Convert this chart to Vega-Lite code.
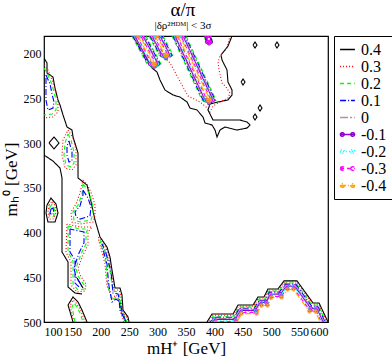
{
"$schema":"https://vega.github.io/schema/vega-lite/v6.json",
"autosize":"none",
"padding":{"left":44,"top":36,"right":64,"bottom":36},
"width":284,"height":286,
"title":{"text":"α/π","subtitle":"|δρ²ᴴᴰᴹ| < 3σ","font":"Liberation Serif","fontSize":19,"fontWeight":"normal","subtitleFont":"Liberation Serif","subtitleFontSize":11,"subtitleColor":"black","anchor":"middle","offset":5,"subtitlePadding":0,"color":"black","dx":-3},
"config":{"view":{"stroke":"black","strokeWidth":1.2},"font":"Liberation Serif",
"axis":{"domain":false,"grid":false,"labelFont":"Liberation Serif","labelFontSize":12,"labelColor":"black","titleFont":"Liberation Serif","titleFontSize":17,"titleFontWeight":"normal","titleColor":"black","tickColor":"black","tickSize":0,"tickWidth":1,"labelOverlap":false},
"legend":{"orient":"right","offset":5,"strokeColor":"black","fillColor":"white","padding":5,"labelFont":"Liberation Serif","labelFontSize":16,"labelColor":"black","symbolType":"stroke","symbolSize":220,"symbolStrokeWidth":1.5,"rowPadding":0,"labelOffset":5,"symbolOffset":0}},
"data":{"values":[
{"lv":"0.4","seg":"k1","x":100,"y":204.6},{"lv":"0.4","seg":"k1","x":105.3,"y":210.2},{"lv":"0.4","seg":"k1","x":105.3,"y":221.4},{"lv":"0.4","seg":"k1","x":115.8,"y":225.9},{"lv":"0.4","seg":"k1","x":119.4,"y":238.2},{"lv":"0.4","seg":"k1","x":124.6,"y":251.6},{"lv":"0.4","seg":"k1","x":128.2,"y":257.2},{"lv":"0.4","seg":"k1","x":133.5,"y":268.4},{"lv":"0.4","seg":"k1","x":140.5,"y":281.8},{"lv":"0.4","seg":"k1","x":149.3,"y":285.2},{"lv":"0.4","seg":"k1","x":151.1,"y":293},{"lv":"0.4","seg":"k1","x":159.9,"y":310.9},{"lv":"0.4","seg":"k1","x":159.9,"y":338.9},{"lv":"0.4","seg":"k1","x":175.7,"y":346.7},{"lv":"0.4","seg":"k1","x":181,"y":360.1},{"lv":"0.4","seg":"k1","x":189.8,"y":385.9},{"lv":"0.4","seg":"k1","x":198.6,"y":404.9},{"lv":"0.4","seg":"k1","x":210.9,"y":416.1},{"lv":"0.4","seg":"k1","x":216.2,"y":427.3},{"lv":"0.4","seg":"k1","x":219.7,"y":441.8},{"lv":"0.4","seg":"k1","x":225,"y":462},{"lv":"0.4","seg":"k1","x":233.8,"y":462},{"lv":"0.4","seg":"k1","x":237.3,"y":469.8},{"lv":"0.4","seg":"k1","x":239.1,"y":486.6},{"lv":"0.4","seg":"k1","x":247.9,"y":494.4},{"lv":"0.4","seg":"k1","x":249.7,"y":500},
{"lv":"0.4","seg":"k2","x":100,"y":313.2},{"lv":"0.4","seg":"k2","x":115.8,"y":319.9},{"lv":"0.4","seg":"k2","x":128.2,"y":327.7},{"lv":"0.4","seg":"k2","x":131.7,"y":338.9},{"lv":"0.4","seg":"k2","x":131.7,"y":421.7},{"lv":"0.4","seg":"k2","x":142.3,"y":432.9},{"lv":"0.4","seg":"k2","x":142.3,"y":460.8},{"lv":"0.4","seg":"k2","x":154.6,"y":467.6},{"lv":"0.4","seg":"k2","x":166.9,"y":468.7},
{"lv":"0.4","seg":"k3","x":151.1,"y":500},{"lv":"0.4","seg":"k3","x":142.3,"y":481},{"lv":"0.4","seg":"k3","x":151.1,"y":472},{"lv":"0.4","seg":"k3","x":159.9,"y":477.6},{"lv":"0.4","seg":"k3","x":166.9,"y":486.6},{"lv":"0.4","seg":"k3","x":175.7,"y":500},
{"lv":"0.4","seg":"k4","x":158.1,"y":450.8},{"lv":"0.4","seg":"k4","x":168.7,"y":462},
{"lv":"0.4","seg":"k5","x":105.3,"y":369.1},{"lv":"0.4","seg":"k5","x":112.3,"y":361.3},{"lv":"0.4","seg":"k5","x":121.1,"y":368},{"lv":"0.4","seg":"k5","x":124.6,"y":378},{"lv":"0.4","seg":"k5","x":119.4,"y":388.1},{"lv":"0.4","seg":"k5","x":107,"y":388.1},{"lv":"0.4","seg":"k5","x":103.5,"y":378},{"lv":"0.4","seg":"k5","x":105.3,"y":369.1},
{"lv":"0.4","seg":"k6","x":108.8,"y":299.7},{"lv":"0.4","seg":"k6","x":117.6,"y":293},{"lv":"0.4","seg":"k6","x":126.4,"y":299.7},{"lv":"0.4","seg":"k6","x":117.6,"y":306.4},{"lv":"0.4","seg":"k6","x":108.8,"y":299.7},
{"lv":"0.4","seg":"k7","x":468,"y":190.1},{"lv":"0.4","seg":"k7","x":471.5,"y":186.7},{"lv":"0.4","seg":"k7","x":475,"y":190.1},{"lv":"0.4","seg":"k7","x":471.5,"y":193.5},{"lv":"0.4","seg":"k7","x":468,"y":190.1},
{"lv":"0.4","seg":"k8","x":506.7,"y":190.1},{"lv":"0.4","seg":"k8","x":510.2,"y":186.7},{"lv":"0.4","seg":"k8","x":513.7,"y":190.1},{"lv":"0.4","seg":"k8","x":510.2,"y":193.5},{"lv":"0.4","seg":"k8","x":506.7,"y":190.1},
{"lv":"0.4","seg":"k9","x":446.9,"y":231.5},{"lv":"0.4","seg":"k9","x":450.4,"y":228.1},{"lv":"0.4","seg":"k9","x":453.9,"y":231.5},{"lv":"0.4","seg":"k9","x":450.4,"y":234.9},{"lv":"0.4","seg":"k9","x":446.9,"y":231.5},
{"lv":"0.4","seg":"k10","x":476.8,"y":260.6},{"lv":"0.4","seg":"k10","x":480.3,"y":257.2},{"lv":"0.4","seg":"k10","x":483.8,"y":260.6},{"lv":"0.4","seg":"k10","x":480.3,"y":264},{"lv":"0.4","seg":"k10","x":476.8,"y":260.6},
{"lv":"0.4","seg":"k11","x":468,"y":270.6},{"lv":"0.4","seg":"k11","x":471.5,"y":267.2},{"lv":"0.4","seg":"k11","x":475,"y":270.6},{"lv":"0.4","seg":"k11","x":471.5,"y":274},{"lv":"0.4","seg":"k11","x":468,"y":270.6},
{"lv":"0.4","seg":"k12","x":256.7,"y":180},{"lv":"0.4","seg":"k12","x":290.1,"y":215.8},{"lv":"0.4","seg":"k12","x":298.9,"y":220.3},{"lv":"0.4","seg":"k12","x":304.2,"y":229.2},{"lv":"0.4","seg":"k12","x":313,"y":240.4},{"lv":"0.4","seg":"k12","x":327.1,"y":246},{"lv":"0.4","seg":"k12","x":339.4,"y":248.3},{"lv":"0.4","seg":"k12","x":351.8,"y":253.8},{"lv":"0.4","seg":"k12","x":357,"y":260.6},{"lv":"0.4","seg":"k12","x":369.4,"y":262.8},{"lv":"0.4","seg":"k12","x":379.9,"y":270.6},{"lv":"0.4","seg":"k12","x":383.5,"y":277.3},{"lv":"0.4","seg":"k12","x":395.8,"y":279.6},{"lv":"0.4","seg":"k12","x":401.1,"y":285.2},{"lv":"0.4","seg":"k12","x":404.6,"y":293},{"lv":"0.4","seg":"k12","x":409.9,"y":285.2},{"lv":"0.4","seg":"k12","x":418.7,"y":281.8},{"lv":"0.4","seg":"k12","x":439.8,"y":285.2},{"lv":"0.4","seg":"k12","x":457.4,"y":283},{"lv":"0.4","seg":"k12","x":462.7,"y":279.6},{"lv":"0.4","seg":"k12","x":457.4,"y":276.2},{"lv":"0.4","seg":"k12","x":445.1,"y":274},{"lv":"0.4","seg":"k12","x":422.2,"y":274},{"lv":"0.4","seg":"k12","x":397.5,"y":274},{"lv":"0.4","seg":"k12","x":388.7,"y":262.8},{"lv":"0.4","seg":"k12","x":392.3,"y":256.1},{"lv":"0.4","seg":"k12","x":406.4,"y":253.8},{"lv":"0.4","seg":"k12","x":423.9,"y":251.6},{"lv":"0.4","seg":"k12","x":431,"y":246},{"lv":"0.4","seg":"k12","x":431,"y":240.4},{"lv":"0.4","seg":"k12","x":423.9,"y":231.5},{"lv":"0.4","seg":"k12","x":422.2,"y":218},{"lv":"0.4","seg":"k12","x":413.4,"y":206.9},{"lv":"0.4","seg":"k12","x":411.6,"y":201.3},{"lv":"0.4","seg":"k12","x":424,"y":191.2},{"lv":"0.4","seg":"k12","x":431,"y":180},
{"lv":"0.4","seg":"k13","x":387,"y":500},{"lv":"0.4","seg":"k13","x":395.8,"y":491.1},{"lv":"0.4","seg":"k13","x":432.8,"y":491.1},{"lv":"0.4","seg":"k13","x":441.6,"y":481},{"lv":"0.4","seg":"k13","x":468,"y":481},{"lv":"0.4","seg":"k13","x":476.8,"y":472},{"lv":"0.4","seg":"k13","x":487.3,"y":472},{"lv":"0.4","seg":"k13","x":494.4,"y":463},{"lv":"0.4","seg":"k13","x":512,"y":463},{"lv":"0.4","seg":"k13","x":522.5,"y":454},{"lv":"0.4","seg":"k13","x":545.4,"y":454},{"lv":"0.4","seg":"k13","x":573.6,"y":478.7},{"lv":"0.4","seg":"k13","x":584.2,"y":478.7},{"lv":"0.4","seg":"k13","x":600,"y":500},

{"lv":"0.3","seg":"r1","x":309.5,"y":201.3},{"lv":"0.3","seg":"r1","x":321.8,"y":210.2},{"lv":"0.3","seg":"r1","x":330.6,"y":220.3},{"lv":"0.3","seg":"r1","x":344.7,"y":237.1},{"lv":"0.3","seg":"r1","x":353.5,"y":247.1},{"lv":"0.3","seg":"r1","x":374.7,"y":253.8},{"lv":"0.3","seg":"r1","x":385.2,"y":259.4},{"lv":"0.3","seg":"r1","x":392.3,"y":265},{"lv":"0.3","seg":"r1","x":397.5,"y":258.3},{"lv":"0.3","seg":"r1","x":409.9,"y":253.8},{"lv":"0.3","seg":"r1","x":423.9,"y":249.4},{"lv":"0.3","seg":"r1","x":427.5,"y":243.8},{"lv":"0.3","seg":"r1","x":420.4,"y":237.1},{"lv":"0.3","seg":"r1","x":413.4,"y":232.6},{"lv":"0.3","seg":"r1","x":408.1,"y":218},{"lv":"0.3","seg":"r1","x":406.4,"y":209.1},{"lv":"0.3","seg":"r1","x":409.9,"y":202.4},{"lv":"0.3","seg":"r1","x":422.2,"y":193.4},{"lv":"0.3","seg":"r1","x":427.5,"y":180},
{"lv":"0.3","seg":"r2","x":100,"y":212.4},{"lv":"0.3","seg":"r2","x":107,"y":218},{"lv":"0.3","seg":"r2","x":114.1,"y":229.2},{"lv":"0.3","seg":"r2","x":119.4,"y":240.4},{"lv":"0.3","seg":"r2","x":124.6,"y":251.6},{"lv":"0.3","seg":"r2","x":124.6,"y":265},{"lv":"0.3","seg":"r2","x":115.8,"y":270.6},{"lv":"0.3","seg":"r2","x":100,"y":271.7},
{"lv":"0.3","seg":"r3","x":142.3,"y":285.2},{"lv":"0.3","seg":"r3","x":151.1,"y":294.1},{"lv":"0.3","seg":"r3","x":156.3,"y":307.6},{"lv":"0.3","seg":"r3","x":156.3,"y":324.3},{"lv":"0.3","seg":"r3","x":149.3,"y":329.9},{"lv":"0.3","seg":"r3","x":137,"y":327.7},{"lv":"0.3","seg":"r3","x":131.7,"y":313.2},{"lv":"0.3","seg":"r3","x":133.5,"y":296.4},{"lv":"0.3","seg":"r3","x":142.3,"y":285.2},
{"lv":"0.3","seg":"r4","x":108.8,"y":369.1},{"lv":"0.3","seg":"r4","x":114.1,"y":364.6},{"lv":"0.3","seg":"r4","x":119.4,"y":370.2},{"lv":"0.3","seg":"r4","x":121.1,"y":378},{"lv":"0.3","seg":"r4","x":115.8,"y":384.8},{"lv":"0.3","seg":"r4","x":108.8,"y":384.8},{"lv":"0.3","seg":"r4","x":107,"y":376.9},{"lv":"0.3","seg":"r4","x":108.8,"y":369.1},
{"lv":"0.3","seg":"r5","x":168.7,"y":341.1},{"lv":"0.3","seg":"r5","x":177.5,"y":347.8},{"lv":"0.3","seg":"r5","x":184.5,"y":357.9},{"lv":"0.3","seg":"r5","x":189.8,"y":369.1},{"lv":"0.3","seg":"r5","x":189.8,"y":380.3},{"lv":"0.3","seg":"r5","x":186.3,"y":388.1},{"lv":"0.3","seg":"r5","x":163.4,"y":390.4},{"lv":"0.3","seg":"r5","x":149.3,"y":388.1},{"lv":"0.3","seg":"r5","x":147.5,"y":376.9},{"lv":"0.3","seg":"r5","x":156.3,"y":368},{"lv":"0.3","seg":"r5","x":163.4,"y":355.7},{"lv":"0.3","seg":"r5","x":168.7,"y":341.1},
{"lv":"0.3","seg":"r6","x":140.5,"y":390.4},{"lv":"0.3","seg":"r6","x":138.7,"y":421.7},{"lv":"0.3","seg":"r6","x":147.5,"y":432.9},{"lv":"0.3","seg":"r6","x":147.5,"y":458.6},{"lv":"0.3","seg":"r6","x":158.1,"y":466.4},{"lv":"0.3","seg":"r6","x":172.2,"y":465.3},{"lv":"0.3","seg":"r6","x":174,"y":457.5},{"lv":"0.3","seg":"r6","x":163.4,"y":447.4},{"lv":"0.3","seg":"r6","x":159.9,"y":439.6},{"lv":"0.3","seg":"r6","x":168.7,"y":425},{"lv":"0.3","seg":"r6","x":177.5,"y":413.8},{"lv":"0.3","seg":"r6","x":177.5,"y":399.3},{"lv":"0.3","seg":"r6","x":184.5,"y":393.7},{"lv":"0.3","seg":"r6","x":163.4,"y":393.7},{"lv":"0.3","seg":"r6","x":140.5,"y":390.4},
{"lv":"0.3","seg":"r7","x":152.8,"y":500},{"lv":"0.3","seg":"r7","x":145.8,"y":482.1},{"lv":"0.3","seg":"r7","x":151.1,"y":475.4},{"lv":"0.3","seg":"r7","x":158.1,"y":479.9},{"lv":"0.3","seg":"r7","x":165.1,"y":487.7},{"lv":"0.3","seg":"r7","x":172.2,"y":500},
{"lv":"0.3","seg":"r8","x":240.8,"y":500},{"lv":"0.3","seg":"r8","x":233.8,"y":487.7},{"lv":"0.3","seg":"r8","x":232,"y":475.4},{"lv":"0.3","seg":"r8","x":226.8,"y":469.8},{"lv":"0.3","seg":"r8","x":219.7,"y":473.2},{"lv":"0.3","seg":"r8","x":210.9,"y":459.7},{"lv":"0.3","seg":"r8","x":209.2,"y":448.5},{"lv":"0.3","seg":"r8","x":207.4,"y":435.1},{"lv":"0.3","seg":"r8","x":202.1,"y":421.7},{"lv":"0.3","seg":"r8","x":195.1,"y":406},{"lv":"0.3","seg":"r8","x":196.8,"y":404.9},{"lv":"0.3","seg":"r8","x":209.2,"y":417.2},{"lv":"0.3","seg":"r8","x":214.4,"y":428.4},{"lv":"0.3","seg":"r8","x":218,"y":442.9},{"lv":"0.3","seg":"r8","x":223.2,"y":464.2},{"lv":"0.3","seg":"r8","x":232,"y":464.2},{"lv":"0.3","seg":"r8","x":235.6,"y":470.9},{"lv":"0.3","seg":"r8","x":237.3,"y":486.6},{"lv":"0.3","seg":"r8","x":246.1,"y":495.5},{"lv":"0.3","seg":"r8","x":247.9,"y":500},
{"lv":"0.3","seg":"r9","x":387.8,"y":501.2},{"lv":"0.3","seg":"r9","x":396.6,"y":492.3},{"lv":"0.3","seg":"r9","x":433.6,"y":492.3},{"lv":"0.3","seg":"r9","x":442.4,"y":482.2},{"lv":"0.3","seg":"r9","x":468.8,"y":482.2},{"lv":"0.3","seg":"r9","x":477.6,"y":473.2},{"lv":"0.3","seg":"r9","x":488.1,"y":473.2},{"lv":"0.3","seg":"r9","x":495.2,"y":464.2},{"lv":"0.3","seg":"r9","x":512.8,"y":464.2},{"lv":"0.3","seg":"r9","x":523.3,"y":455.2},{"lv":"0.3","seg":"r9","x":544.6,"y":455.2},{"lv":"0.3","seg":"r9","x":572.8,"y":479.9},{"lv":"0.3","seg":"r9","x":583.4,"y":479.9},{"lv":"0.3","seg":"r9","x":599.2,"y":501.2},

{"lv":"0.2","seg":"g1","x":100,"y":215.8},{"lv":"0.2","seg":"g1","x":105.3,"y":221.4},{"lv":"0.2","seg":"g1","x":112.3,"y":231.5},{"lv":"0.2","seg":"g1","x":117.6,"y":242.7},{"lv":"0.2","seg":"g1","x":121.1,"y":251.6},{"lv":"0.2","seg":"g1","x":121.1,"y":262.8},{"lv":"0.2","seg":"g1","x":114.1,"y":267.3},{"lv":"0.2","seg":"g1","x":100,"y":268.4},
{"lv":"0.2","seg":"g2","x":142.3,"y":289.7},{"lv":"0.2","seg":"g2","x":147.5,"y":296.4},{"lv":"0.2","seg":"g2","x":152.8,"y":309.8},{"lv":"0.2","seg":"g2","x":152.8,"y":322.1},{"lv":"0.2","seg":"g2","x":147.5,"y":326.6},{"lv":"0.2","seg":"g2","x":138.7,"y":324.3},{"lv":"0.2","seg":"g2","x":135.2,"y":313.2},{"lv":"0.2","seg":"g2","x":137,"y":299.7},{"lv":"0.2","seg":"g2","x":142.3,"y":289.7},
{"lv":"0.2","seg":"g3","x":110.6,"y":371.3},{"lv":"0.2","seg":"g3","x":114.1,"y":368},{"lv":"0.2","seg":"g3","x":117.6,"y":372.5},{"lv":"0.2","seg":"g3","x":119.4,"y":378},{"lv":"0.2","seg":"g3","x":115.8,"y":382.5},{"lv":"0.2","seg":"g3","x":110.6,"y":382.5},{"lv":"0.2","seg":"g3","x":108.8,"y":376.9},{"lv":"0.2","seg":"g3","x":110.6,"y":371.3},
{"lv":"0.2","seg":"g4","x":168.7,"y":345.6},{"lv":"0.2","seg":"g4","x":175.7,"y":351.2},{"lv":"0.2","seg":"g4","x":181,"y":359},{"lv":"0.2","seg":"g4","x":186.3,"y":370.2},{"lv":"0.2","seg":"g4","x":186.3,"y":379.2},{"lv":"0.2","seg":"g4","x":182.7,"y":385.9},{"lv":"0.2","seg":"g4","x":163.4,"y":388.1},{"lv":"0.2","seg":"g4","x":152.8,"y":385.9},{"lv":"0.2","seg":"g4","x":151.1,"y":376.9},{"lv":"0.2","seg":"g4","x":159.9,"y":369.1},{"lv":"0.2","seg":"g4","x":166.9,"y":356.8},{"lv":"0.2","seg":"g4","x":168.7,"y":345.6},
{"lv":"0.2","seg":"g5","x":142.3,"y":392.6},{"lv":"0.2","seg":"g5","x":142.3,"y":421.7},{"lv":"0.2","seg":"g5","x":151.1,"y":431.8},{"lv":"0.2","seg":"g5","x":151.1,"y":457.5},{"lv":"0.2","seg":"g5","x":159.9,"y":464.2},{"lv":"0.2","seg":"g5","x":170.4,"y":463.1},{"lv":"0.2","seg":"g5","x":170.4,"y":458.6},{"lv":"0.2","seg":"g5","x":159.9,"y":448.5},{"lv":"0.2","seg":"g5","x":156.3,"y":439.6},{"lv":"0.2","seg":"g5","x":165.1,"y":423.9},{"lv":"0.2","seg":"g5","x":174,"y":412.7},{"lv":"0.2","seg":"g5","x":174,"y":400.4},{"lv":"0.2","seg":"g5","x":177.5,"y":396},{"lv":"0.2","seg":"g5","x":163.4,"y":396},{"lv":"0.2","seg":"g5","x":142.3,"y":392.6},
{"lv":"0.2","seg":"g6","x":154.6,"y":500},{"lv":"0.2","seg":"g6","x":149.3,"y":483.2},{"lv":"0.2","seg":"g6","x":152.8,"y":478.7},{"lv":"0.2","seg":"g6","x":158.1,"y":483.2},{"lv":"0.2","seg":"g6","x":163.4,"y":489.9},{"lv":"0.2","seg":"g6","x":168.7,"y":500},
{"lv":"0.2","seg":"g7","x":242.6,"y":500},{"lv":"0.2","seg":"g7","x":235.6,"y":487.7},{"lv":"0.2","seg":"g7","x":233.8,"y":475.4},{"lv":"0.2","seg":"g7","x":226.8,"y":472},{"lv":"0.2","seg":"g7","x":219.7,"y":475.4},{"lv":"0.2","seg":"g7","x":212.7,"y":459.7},{"lv":"0.2","seg":"g7","x":210.9,"y":448.5},{"lv":"0.2","seg":"g7","x":209.2,"y":435.1},{"lv":"0.2","seg":"g7","x":203.9,"y":421.7},{"lv":"0.2","seg":"g7","x":198.6,"y":408.3},{"lv":"0.2","seg":"g7","x":205.6,"y":417.2},{"lv":"0.2","seg":"g7","x":210.9,"y":428.4},{"lv":"0.2","seg":"g7","x":216.2,"y":442.9},{"lv":"0.2","seg":"g7","x":221.5,"y":465.3},{"lv":"0.2","seg":"g7","x":230.3,"y":466.4},{"lv":"0.2","seg":"g7","x":233.8,"y":472},{"lv":"0.2","seg":"g7","x":235.6,"y":486.6},{"lv":"0.2","seg":"g7","x":244.4,"y":496.7},{"lv":"0.2","seg":"g7","x":246.1,"y":500},
{"lv":"0.2","seg":"g8","x":254.7,"y":180},{"lv":"0.2","seg":"g8","x":281.4,"y":211.3},{"lv":"0.2","seg":"g8","x":293.7,"y":216.9},{"lv":"0.2","seg":"g8","x":306,"y":211.3},{"lv":"0.2","seg":"g8","x":279.3,"y":180},
{"lv":"0.2","seg":"g9","x":284.9,"y":180},{"lv":"0.2","seg":"g9","x":302.5,"y":201.3},{"lv":"0.2","seg":"g9","x":314.8,"y":206.9},{"lv":"0.2","seg":"g9","x":327.1,"y":201.3},{"lv":"0.2","seg":"g9","x":309.5,"y":180},
{"lv":"0.2","seg":"g10","x":325.4,"y":180},{"lv":"0.2","seg":"g10","x":378.2,"y":251.6},{"lv":"0.2","seg":"g10","x":390.5,"y":257.2},{"lv":"0.2","seg":"g10","x":402.8,"y":251.6},{"lv":"0.2","seg":"g10","x":350,"y":180},
{"lv":"0.2","seg":"g11","x":382.5,"y":180},{"lv":"0.2","seg":"g11","x":384.3,"y":186.7},{"lv":"0.2","seg":"g11","x":390.5,"y":189.5},{"lv":"0.2","seg":"g11","x":396.7,"y":186.7},{"lv":"0.2","seg":"g11","x":394.9,"y":180},
{"lv":"0.2","seg":"g12","x":388.6,"y":502.4},{"lv":"0.2","seg":"g12","x":397.4,"y":493.5},{"lv":"0.2","seg":"g12","x":434.4,"y":493.5},{"lv":"0.2","seg":"g12","x":443.2,"y":483.4},{"lv":"0.2","seg":"g12","x":469.6,"y":483.4},{"lv":"0.2","seg":"g12","x":478.4,"y":474.4},{"lv":"0.2","seg":"g12","x":488.9,"y":474.4},{"lv":"0.2","seg":"g12","x":496,"y":465.4},{"lv":"0.2","seg":"g12","x":513.6,"y":465.4},{"lv":"0.2","seg":"g12","x":524.1,"y":456.4},{"lv":"0.2","seg":"g12","x":543.8,"y":456.4},{"lv":"0.2","seg":"g12","x":572,"y":481.1},{"lv":"0.2","seg":"g12","x":582.6,"y":481.1},{"lv":"0.2","seg":"g12","x":598.4,"y":502.4},

{"lv":"0.1","seg":"b1","x":103.5,"y":223.6},{"lv":"0.1","seg":"b1","x":110.6,"y":233.7},{"lv":"0.1","seg":"b1","x":114.1,"y":244.9},{"lv":"0.1","seg":"b1","x":117.6,"y":253.8},{"lv":"0.1","seg":"b1","x":115.8,"y":260.6},{"lv":"0.1","seg":"b1","x":107,"y":262.8},{"lv":"0.1","seg":"b1","x":103.5,"y":251.6},{"lv":"0.1","seg":"b1","x":103.5,"y":223.6},
{"lv":"0.1","seg":"b2","x":144,"y":297.5},{"lv":"0.1","seg":"b2","x":149.3,"y":309.8},{"lv":"0.1","seg":"b2","x":149.3,"y":319.9},{"lv":"0.1","seg":"b2","x":144,"y":321},{"lv":"0.1","seg":"b2","x":140.5,"y":313.2},{"lv":"0.1","seg":"b2","x":140.5,"y":303.1},{"lv":"0.1","seg":"b2","x":144,"y":297.5},
{"lv":"0.1","seg":"b3","x":112.3,"y":373.6},{"lv":"0.1","seg":"b3","x":115.8,"y":372.5},{"lv":"0.1","seg":"b3","x":117.6,"y":378},{"lv":"0.1","seg":"b3","x":114.1,"y":380.3},{"lv":"0.1","seg":"b3","x":110.6,"y":378},{"lv":"0.1","seg":"b3","x":112.3,"y":373.6},
{"lv":"0.1","seg":"b4","x":168.7,"y":352.3},{"lv":"0.1","seg":"b4","x":177.5,"y":361.3},{"lv":"0.1","seg":"b4","x":182.7,"y":371.3},{"lv":"0.1","seg":"b4","x":181,"y":381.4},{"lv":"0.1","seg":"b4","x":163.4,"y":384.8},{"lv":"0.1","seg":"b4","x":156.3,"y":382.5},{"lv":"0.1","seg":"b4","x":154.6,"y":376.9},{"lv":"0.1","seg":"b4","x":163.4,"y":370.2},{"lv":"0.1","seg":"b4","x":168.7,"y":357.9},{"lv":"0.1","seg":"b4","x":168.7,"y":352.3},
{"lv":"0.1","seg":"b5","x":145.8,"y":396},{"lv":"0.1","seg":"b5","x":145.8,"y":421.7},{"lv":"0.1","seg":"b5","x":154.6,"y":430.6},{"lv":"0.1","seg":"b5","x":154.6,"y":456.4},{"lv":"0.1","seg":"b5","x":161.6,"y":460.8},{"lv":"0.1","seg":"b5","x":166.9,"y":459.7},{"lv":"0.1","seg":"b5","x":156.3,"y":449.7},{"lv":"0.1","seg":"b5","x":152.8,"y":439.6},{"lv":"0.1","seg":"b5","x":161.6,"y":422.8},{"lv":"0.1","seg":"b5","x":170.4,"y":411.6},{"lv":"0.1","seg":"b5","x":170.4,"y":399.3},{"lv":"0.1","seg":"b5","x":145.8,"y":396},
{"lv":"0.1","seg":"b6","x":244.4,"y":500},{"lv":"0.1","seg":"b6","x":237.3,"y":487.7},{"lv":"0.1","seg":"b6","x":233.8,"y":477.6},{"lv":"0.1","seg":"b6","x":226.8,"y":474.3},{"lv":"0.1","seg":"b6","x":219.7,"y":477.6},{"lv":"0.1","seg":"b6","x":214.4,"y":459.7},{"lv":"0.1","seg":"b6","x":212.7,"y":448.5},{"lv":"0.1","seg":"b6","x":210.9,"y":435.1},{"lv":"0.1","seg":"b6","x":205.6,"y":422.8},{"lv":"0.1","seg":"b6","x":202.1,"y":412.7},{"lv":"0.1","seg":"b6","x":207.4,"y":419.4},{"lv":"0.1","seg":"b6","x":212.7,"y":430.6},{"lv":"0.1","seg":"b6","x":218,"y":444.1},{"lv":"0.1","seg":"b6","x":221.5,"y":467.6},{"lv":"0.1","seg":"b6","x":230.3,"y":468.7},{"lv":"0.1","seg":"b6","x":232,"y":473.2},{"lv":"0.1","seg":"b6","x":233.8,"y":486.6},{"lv":"0.1","seg":"b6","x":242.6,"y":497.8},{"lv":"0.1","seg":"b6","x":244.4,"y":500},
{"lv":"0.1","seg":"b7","x":256.4,"y":180},{"lv":"0.1","seg":"b7","x":283.1,"y":211.3},{"lv":"0.1","seg":"b7","x":293.7,"y":216.1},{"lv":"0.1","seg":"b7","x":304.3,"y":211.3},{"lv":"0.1","seg":"b7","x":277.6,"y":180},
{"lv":"0.1","seg":"b8","x":286.6,"y":180},{"lv":"0.1","seg":"b8","x":304.2,"y":201.3},{"lv":"0.1","seg":"b8","x":314.8,"y":206.1},{"lv":"0.1","seg":"b8","x":325.4,"y":201.3},{"lv":"0.1","seg":"b8","x":307.8,"y":180},
{"lv":"0.1","seg":"b9","x":327.1,"y":180},{"lv":"0.1","seg":"b9","x":379.9,"y":251.6},{"lv":"0.1","seg":"b9","x":390.5,"y":256.4},{"lv":"0.1","seg":"b9","x":401.1,"y":251.6},{"lv":"0.1","seg":"b9","x":348.3,"y":180},
{"lv":"0.1","seg":"b10","x":383.8,"y":180},{"lv":"0.1","seg":"b10","x":385.6,"y":186.7},{"lv":"0.1","seg":"b10","x":390.5,"y":188.9},{"lv":"0.1","seg":"b10","x":395.4,"y":186.7},{"lv":"0.1","seg":"b10","x":393.6,"y":180},
{"lv":"0.1","seg":"b11","x":389.4,"y":503.6},{"lv":"0.1","seg":"b11","x":398.2,"y":494.7},{"lv":"0.1","seg":"b11","x":435.2,"y":494.7},{"lv":"0.1","seg":"b11","x":444,"y":484.6},{"lv":"0.1","seg":"b11","x":470.4,"y":484.6},{"lv":"0.1","seg":"b11","x":479.2,"y":475.6},{"lv":"0.1","seg":"b11","x":489.7,"y":475.6},{"lv":"0.1","seg":"b11","x":496.8,"y":466.6},{"lv":"0.1","seg":"b11","x":514.4,"y":466.6},{"lv":"0.1","seg":"b11","x":524.9,"y":457.6},{"lv":"0.1","seg":"b11","x":543,"y":457.6},{"lv":"0.1","seg":"b11","x":571.2,"y":482.3},{"lv":"0.1","seg":"b11","x":581.8,"y":482.3},{"lv":"0.1","seg":"b11","x":597.6,"y":503.6},

{"lv":"0","seg":"z1","x":258.2,"y":180},{"lv":"0","seg":"z1","x":284.9,"y":211.3},{"lv":"0","seg":"z1","x":293.7,"y":215.3},{"lv":"0","seg":"z1","x":302.5,"y":211.3},{"lv":"0","seg":"z1","x":275.8,"y":180},
{"lv":"0","seg":"z2","x":288.4,"y":180},{"lv":"0","seg":"z2","x":306,"y":201.3},{"lv":"0","seg":"z2","x":314.8,"y":205.3},{"lv":"0","seg":"z2","x":323.6,"y":201.3},{"lv":"0","seg":"z2","x":306,"y":180},
{"lv":"0","seg":"z3","x":328.9,"y":180},{"lv":"0","seg":"z3","x":381.7,"y":251.6},{"lv":"0","seg":"z3","x":390.5,"y":255.6},{"lv":"0","seg":"z3","x":399.3,"y":251.6},{"lv":"0","seg":"z3","x":346.5,"y":180},
{"lv":"0","seg":"z4","x":390.2,"y":504.8},{"lv":"0","seg":"z4","x":399,"y":495.9},{"lv":"0","seg":"z4","x":436,"y":495.9},{"lv":"0","seg":"z4","x":444.8,"y":485.8},{"lv":"0","seg":"z4","x":471.2,"y":485.8},{"lv":"0","seg":"z4","x":480,"y":476.8},{"lv":"0","seg":"z4","x":490.5,"y":476.8},{"lv":"0","seg":"z4","x":497.6,"y":467.8},{"lv":"0","seg":"z4","x":515.2,"y":467.8},{"lv":"0","seg":"z4","x":525.7,"y":458.8},{"lv":"0","seg":"z4","x":542.2,"y":458.8},{"lv":"0","seg":"z4","x":570.4,"y":483.5},{"lv":"0","seg":"z4","x":581,"y":483.5},{"lv":"0","seg":"z4","x":596.8,"y":504.8},

{"lv":"-0.1","seg":"p1","x":260,"y":180},{"lv":"-0.1","seg":"p1","x":286.7,"y":211.3},{"lv":"-0.1","seg":"p1","x":293.7,"y":214.5},{"lv":"-0.1","seg":"p1","x":300.7,"y":211.3},{"lv":"-0.1","seg":"p1","x":274,"y":180},
{"lv":"-0.1","seg":"p2","x":290.2,"y":180},{"lv":"-0.1","seg":"p2","x":307.8,"y":201.3},{"lv":"-0.1","seg":"p2","x":314.8,"y":204.5},{"lv":"-0.1","seg":"p2","x":321.8,"y":201.3},{"lv":"-0.1","seg":"p2","x":304.2,"y":180},
{"lv":"-0.1","seg":"p3","x":330.7,"y":180},{"lv":"-0.1","seg":"p3","x":383.5,"y":251.6},{"lv":"-0.1","seg":"p3","x":390.5,"y":254.8},{"lv":"-0.1","seg":"p3","x":397.5,"y":251.6},{"lv":"-0.1","seg":"p3","x":344.7,"y":180},
{"lv":"-0.1","seg":"p4","x":385.2,"y":180},{"lv":"-0.1","seg":"p4","x":387,"y":186.7},{"lv":"-0.1","seg":"p4","x":390.5,"y":188.3},{"lv":"-0.1","seg":"p4","x":394,"y":186.7},{"lv":"-0.1","seg":"p4","x":392.2,"y":180},
{"lv":"-0.1","seg":"p5","x":391,"y":506},{"lv":"-0.1","seg":"p5","x":399.8,"y":497.1},{"lv":"-0.1","seg":"p5","x":436.8,"y":497.1},{"lv":"-0.1","seg":"p5","x":445.6,"y":487},{"lv":"-0.1","seg":"p5","x":472,"y":487},{"lv":"-0.1","seg":"p5","x":480.8,"y":478},{"lv":"-0.1","seg":"p5","x":491.3,"y":478},{"lv":"-0.1","seg":"p5","x":498.4,"y":469},{"lv":"-0.1","seg":"p5","x":516,"y":469},{"lv":"-0.1","seg":"p5","x":526.5,"y":460},{"lv":"-0.1","seg":"p5","x":541.4,"y":460},{"lv":"-0.1","seg":"p5","x":569.6,"y":484.7},{"lv":"-0.1","seg":"p5","x":580.2,"y":484.7},{"lv":"-0.1","seg":"p5","x":596,"y":506},

{"lv":"-0.2","seg":"c1","x":261.7,"y":180},{"lv":"-0.2","seg":"c1","x":288.4,"y":211.3},{"lv":"-0.2","seg":"c1","x":293.7,"y":213.7},{"lv":"-0.2","seg":"c1","x":299,"y":211.3},{"lv":"-0.2","seg":"c1","x":272.3,"y":180},
{"lv":"-0.2","seg":"c2","x":291.9,"y":180},{"lv":"-0.2","seg":"c2","x":309.5,"y":201.3},{"lv":"-0.2","seg":"c2","x":314.8,"y":203.7},{"lv":"-0.2","seg":"c2","x":320.1,"y":201.3},{"lv":"-0.2","seg":"c2","x":302.5,"y":180},
{"lv":"-0.2","seg":"c3","x":332.4,"y":180},{"lv":"-0.2","seg":"c3","x":385.2,"y":251.6},{"lv":"-0.2","seg":"c3","x":390.5,"y":254},{"lv":"-0.2","seg":"c3","x":395.8,"y":251.6},{"lv":"-0.2","seg":"c3","x":343,"y":180},
{"lv":"-0.2","seg":"c4","x":391.8,"y":507.2},{"lv":"-0.2","seg":"c4","x":400.6,"y":498.3},{"lv":"-0.2","seg":"c4","x":437.6,"y":498.3},{"lv":"-0.2","seg":"c4","x":446.4,"y":488.2},{"lv":"-0.2","seg":"c4","x":472.8,"y":488.2},{"lv":"-0.2","seg":"c4","x":481.6,"y":479.2},{"lv":"-0.2","seg":"c4","x":492.1,"y":479.2},{"lv":"-0.2","seg":"c4","x":499.2,"y":470.2},{"lv":"-0.2","seg":"c4","x":516.8,"y":470.2},{"lv":"-0.2","seg":"c4","x":527.3,"y":461.2},{"lv":"-0.2","seg":"c4","x":540.6,"y":461.2},{"lv":"-0.2","seg":"c4","x":568.8,"y":485.9},{"lv":"-0.2","seg":"c4","x":579.4,"y":485.9},{"lv":"-0.2","seg":"c4","x":595.2,"y":507.2},

{"lv":"-0.3","seg":"m1","x":263.5,"y":180},{"lv":"-0.3","seg":"m1","x":290.2,"y":211.3},{"lv":"-0.3","seg":"m1","x":293.7,"y":212.9},{"lv":"-0.3","seg":"m1","x":297.2,"y":211.3},{"lv":"-0.3","seg":"m1","x":270.5,"y":180},
{"lv":"-0.3","seg":"m2","x":293.7,"y":180},{"lv":"-0.3","seg":"m2","x":311.3,"y":201.3},{"lv":"-0.3","seg":"m2","x":314.8,"y":202.9},{"lv":"-0.3","seg":"m2","x":318.3,"y":201.3},{"lv":"-0.3","seg":"m2","x":300.7,"y":180},
{"lv":"-0.3","seg":"m3","x":334.2,"y":180},{"lv":"-0.3","seg":"m3","x":387,"y":251.6},{"lv":"-0.3","seg":"m3","x":390.5,"y":253.2},{"lv":"-0.3","seg":"m3","x":394,"y":251.6},{"lv":"-0.3","seg":"m3","x":341.2,"y":180},
{"lv":"-0.3","seg":"m4","x":386.9,"y":180},{"lv":"-0.3","seg":"m4","x":388.7,"y":186.7},{"lv":"-0.3","seg":"m4","x":390.5,"y":187.5},{"lv":"-0.3","seg":"m4","x":392.3,"y":186.7},{"lv":"-0.3","seg":"m4","x":390.5,"y":180},
{"lv":"-0.3","seg":"m5","x":392.6,"y":508.4},{"lv":"-0.3","seg":"m5","x":401.4,"y":499.5},{"lv":"-0.3","seg":"m5","x":438.4,"y":499.5},{"lv":"-0.3","seg":"m5","x":447.2,"y":489.4},{"lv":"-0.3","seg":"m5","x":473.6,"y":489.4},{"lv":"-0.3","seg":"m5","x":482.4,"y":480.4},{"lv":"-0.3","seg":"m5","x":492.9,"y":480.4},{"lv":"-0.3","seg":"m5","x":500,"y":471.4},{"lv":"-0.3","seg":"m5","x":517.6,"y":471.4},{"lv":"-0.3","seg":"m5","x":528.1,"y":462.4},{"lv":"-0.3","seg":"m5","x":539.8,"y":462.4},{"lv":"-0.3","seg":"m5","x":568,"y":487.1},{"lv":"-0.3","seg":"m5","x":578.6,"y":487.1},{"lv":"-0.3","seg":"m5","x":594.4,"y":508.4},

{"lv":"-0.4","seg":"o1","x":265.2,"y":180},{"lv":"-0.4","seg":"o1","x":291.9,"y":211.3},{"lv":"-0.4","seg":"o1","x":293.7,"y":212.1},{"lv":"-0.4","seg":"o1","x":295.5,"y":211.3},{"lv":"-0.4","seg":"o1","x":268.8,"y":180},
{"lv":"-0.4","seg":"o2","x":295.4,"y":180},{"lv":"-0.4","seg":"o2","x":313,"y":201.3},{"lv":"-0.4","seg":"o2","x":314.8,"y":202.1},{"lv":"-0.4","seg":"o2","x":316.6,"y":201.3},{"lv":"-0.4","seg":"o2","x":299,"y":180},
{"lv":"-0.4","seg":"o3","x":335.9,"y":180},{"lv":"-0.4","seg":"o3","x":388.7,"y":251.6},{"lv":"-0.4","seg":"o3","x":390.5,"y":252.4},{"lv":"-0.4","seg":"o3","x":392.3,"y":251.6},{"lv":"-0.4","seg":"o3","x":339.5,"y":180},
{"lv":"-0.4","seg":"o4","x":393.4,"y":509.6},{"lv":"-0.4","seg":"o4","x":402.2,"y":500.7},{"lv":"-0.4","seg":"o4","x":439.2,"y":500.7},{"lv":"-0.4","seg":"o4","x":448,"y":490.6},{"lv":"-0.4","seg":"o4","x":474.4,"y":490.6},{"lv":"-0.4","seg":"o4","x":483.2,"y":481.6},{"lv":"-0.4","seg":"o4","x":493.7,"y":481.6},{"lv":"-0.4","seg":"o4","x":500.8,"y":472.6},{"lv":"-0.4","seg":"o4","x":518.4,"y":472.6},{"lv":"-0.4","seg":"o4","x":528.9,"y":463.6},{"lv":"-0.4","seg":"o4","x":539,"y":463.6},{"lv":"-0.4","seg":"o4","x":567.2,"y":488.3},{"lv":"-0.4","seg":"o4","x":577.8,"y":488.3},{"lv":"-0.4","seg":"o4","x":593.6,"y":509.6}
]},
"layer":[
{"mark":{"type":"line","strokeWidth":1.1,"clip":true},
"encoding":{
"x":{"field":"x","type":"quantitative","scale":{"domain":[100,600],"nice":false,"zero":false},
"axis":{"title":"mH⁺ [GeV]","values":[100,125,150,175,200,225,250,275,300,325,350,375,400,425,450,475,500,525,550,575,600],"labelExpr":"datum.value % 50 == 0 ? datum.label : ''","labelFlush":true,"labelPadding":4,"titlePadding":3,"encode":{"ticks":{"update":{"y2":{"signal":"datum.value % 50 == 0 ? -8 : -4"}}}}}},
"y":{"field":"y","type":"quantitative","scale":{"domain":[180,500],"nice":false,"zero":false,"reverse":true},
"axis":{"title":"mₕ⁰ [GeV]","values":[200,225,250,275,300,325,350,375,400,425,450,475,500],"labelExpr":"datum.value % 50 == 0 ? datum.label : ''","labelFlush":false,"labelPadding":3,"titlePadding":3,"encode":{"ticks":{"update":{"x2":{"signal":"datum.value % 50 == 0 ? 8 : 4"}}}}}},
"color":{"field":"lv","type":"nominal","scale":{"domain":["0.4","0.3","0.2","0.1","0","-0.1","-0.2","-0.3","-0.4"],"range":["#000000","#ff0000","#00ff00","#0000ff","#bc8f8f","#9400d3","#00ffff","#ff00ff","#ffa500"]},
"legend":{"title":null,"encode":{"symbols":{"update":{
"stroke":{"signal":"datum.label=='0.4' ? '#000000' : datum.label=='0.3' ? '#ff0000' : datum.label=='0.2' ? '#00ff00' : datum.label=='0.1' ? '#0000ff' : datum.label=='0' ? '#bc8f8f' : datum.label=='-0.1' ? '#9400d3' : datum.label=='-0.2' ? '#00ffff' : datum.label=='-0.3' ? '#ff00ff' : '#ffa500'"},
"opacity":{"value":1},"strokeOpacity":{"value":1},"fill":{"value":"transparent"},
"shape":{"signal":"indexof(['-0.1','-0.2','-0.3','-0.4'], datum.label) >= 0 ? 'M-1,0L1,0M-0.95,0a0.25,0.25 0 1,0 0.5,0a0.25,0.25 0 1,0 -0.5,0M0.45,0a0.25,0.25 0 1,0 0.5,0a0.25,0.25 0 1,0 -0.5,0' : 'stroke'"},
"strokeDash":{"signal":"(datum.label=='0.3'||datum.label=='-0.2') ? [1,2] : (datum.label=='0.2'||datum.label=='-0.3') ? [4,3] : (datum.label=='0.1'||datum.label=='-0.4') ? [6,2,1,2] : datum.label=='0' ? [8,2,2,2] : [1,0]"}}}}}},
"strokeDash":{"field":"lv","type":"nominal","scale":{"domain":["0.4","0.3","0.2","0.1","0","-0.1","-0.2","-0.3","-0.4"],"range":[[1,0],[1,2],[4,3],[6,2,1,2],[8,2,2,2],[1,0],[1,2],[4,3],[6,2,1,2]]},"legend":null},
"detail":{"field":"seg"},
"order":{"value":null}
}},
{"transform":[{"filter":{"field":"lv","oneOf":["-0.1","-0.2","-0.3","-0.4"]}}],
"mark":{"type":"point","shape":"circle","size":12,"filled":false,"strokeWidth":0.9,"opacity":1,"clip":true},
"encoding":{
"x":{"field":"x","type":"quantitative","axis":{"orient":"top","title":null,"labels":false,"values":[100,125,150,175,200,225,250,275,300,325,350,375,400,425,450,475,500,525,550,575,600],"encode":{"ticks":{"update":{"y2":{"signal":"datum.value % 50 == 0 ? 8 : 4"}}}}}},
"y":{"field":"y","type":"quantitative","axis":{"orient":"right","title":null,"labels":false,"values":[200,225,250,275,300,325,350,375,400,425,450,475,500],"encode":{"ticks":{"update":{"x2":{"signal":"datum.value % 50 == 0 ? -8 : -4"}}}}}},
"color":{"field":"lv","type":"nominal","legend":null}
}}
],
"resolve":{"axis":{"x":"independent","y":"independent"}}
}
